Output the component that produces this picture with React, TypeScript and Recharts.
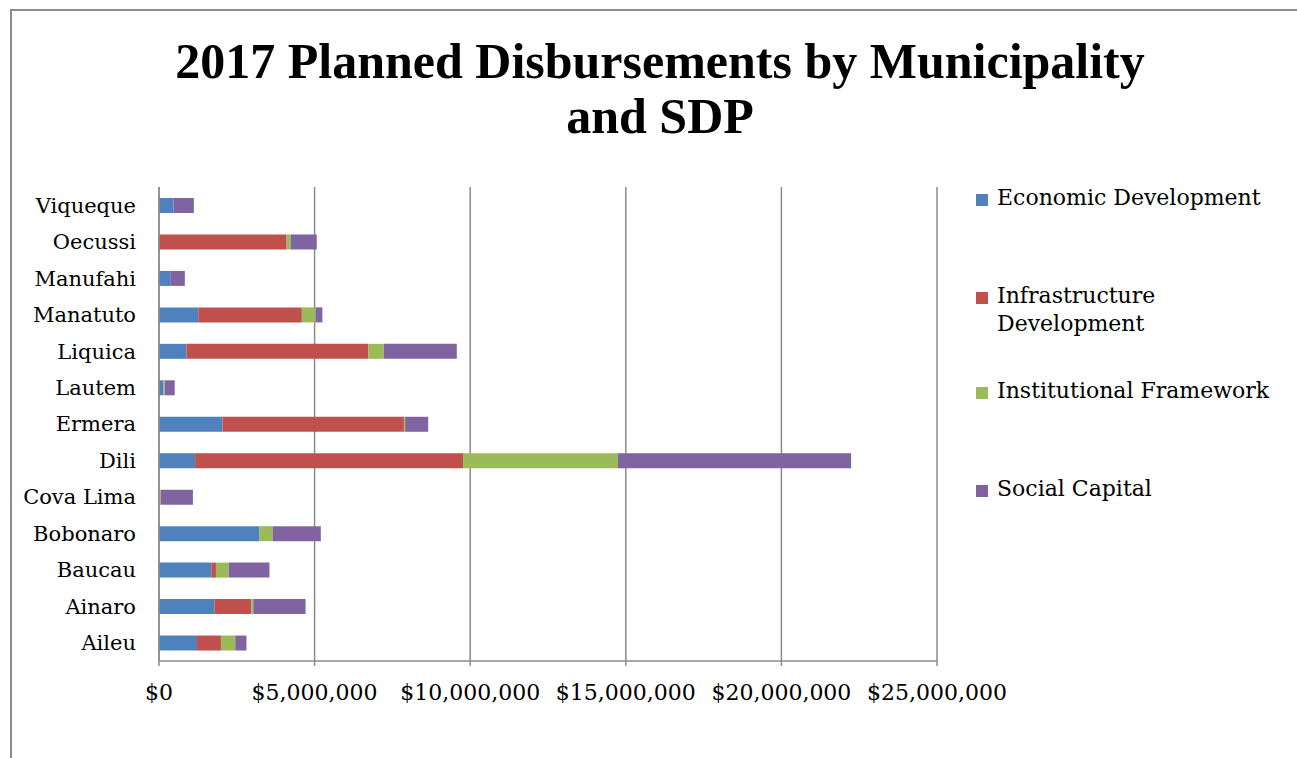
import React from 'react';
import {
  BarChart,
  Bar,
  XAxis,
  YAxis,
  CartesianGrid,
  Legend,
} from 'recharts';

// municipalities, listed bottom-to-top as in the source sheet
const municipalities = [
  'Aileu', 'Ainaro', 'Baucau', 'Bobonaro', 'Cova Lima', 'Dili', 'Ermera',
  'Lautem', 'Liquica', 'Manatuto', 'Manufahi', 'Oecussi', 'Viqueque',
];

// values in US$
const economicDevelopment = [
  1220000, 1780000, 1680000, 3230000, 0, 1160000, 2040000,
  145000, 880000, 1260000, 360000, 0, 470000,
];
const infrastructureDevelopment = [
  770000, 1190000, 150000, 0, 0, 8610000, 5830000,
  0, 5850000, 3330000, 0, 4100000, 0,
];
const institutionalFramework = [
  460000, 60000, 410000, 420000, 60000, 4980000, 40000,
  40000, 490000, 440000, 0, 130000, 0,
];
const socialCapital = [
  360000, 1680000, 1310000, 1550000, 1030000, 7490000, 740000,
  320000, 2350000, 220000, 470000, 840000, 650000,
];

const xTicks = [0, 5000000, 10000000, 15000000, 20000000, 25000000];

const SERIES = [
  { key: 'economic', name: 'Economic Development', color: '#4F81BD' },
  { key: 'infrastructure', name: 'Infrastructure Development', color: '#C0504D' },
  { key: 'institutional', name: 'Institutional Framework', color: '#9BBB59' },
  { key: 'social', name: 'Social Capital', color: '#8064A2' },
];

const data = municipalities.map((name, i) => ({
  name,
  economic: economicDevelopment[i],
  infrastructure: infrastructureDevelopment[i],
  institutional: institutionalFramework[i],
  social: socialCapital[i],
}));

const LABEL_FONT = '"DejaVu Serif", serif';
const LEGEND_WIDTH = 310;
const legendTops = [0, 98, 193, 291];

const renderLegend = () => (
  <div style={{ position: 'relative', width: LEGEND_WIDTH, height: 320, fontFamily: LABEL_FONT, fontSize: 22 }}>
    {SERIES.map((s, i) => (
      <div key={s.key} style={{ position: 'absolute', left: 0, top: legendTops[i], display: 'flex' }}>
        <div style={{ width: 12, height: 12, background: s.color, marginTop: 7, marginRight: 9 }} />
        <div style={{ width: 285, lineHeight: '28px', marginTop: -3 }}>{s.name}</div>
      </div>
    ))}
  </div>
);

export default function App() {
  return (
    <div style={{ position: 'absolute', left: 0, top: 0, width: 1297, height: 758, background: '#fff', overflow: 'hidden' }}>
      <div style={{ position: 'absolute', left: 10, top: 9, width: 1400, height: 800, borderLeft: '2px solid #8c8c8c', borderTop: '2px solid #8c8c8c' }} />
      <div
        style={{
          position: 'absolute', left: 160, top: 34, width: 1000, textAlign: 'center',
          fontFamily: '"Liberation Serif", serif', fontWeight: 'bold', fontSize: 50, lineHeight: '55px', color: '#000',
        }}
      >
        2017 Planned Disbursements by Municipality
        <br />
        and SDP
      </div>
      <BarChart
        width={1297}
        height={758}
        data={data}
        layout="vertical"
        barSize={15}
        margin={{ top: 187, right: 360 - LEGEND_WIDTH, bottom: 57, left: 0 }}
        style={{ position: 'absolute', left: 0, top: 0 }}
      >
        <CartesianGrid horizontal={false} stroke="#8c8c8c" strokeWidth={1.5} />
        <XAxis
          type="number"
          domain={[0, 25000000]}
          ticks={xTicks}
          interval={0}
          tickFormatter={(v: number) => `$${v.toLocaleString('en-US')}`}
          stroke="#8c8c8c"
          strokeWidth={1.5}
          tick={{ fill: '#000', fontFamily: LABEL_FONT, fontSize: 22 }}
          tickSize={5}
          tickMargin={18}
          height={40}
        />
        <YAxis
          type="category"
          dataKey="name"
          reversed
          width={159}
          stroke="#8c8c8c"
          strokeWidth={1.5}
          tickLine={false}
          tick={{ fill: '#000', fontFamily: LABEL_FONT, fontSize: 21 }}
          tickMargin={17}
          interval={0}
        />
        <Legend
          layout="vertical"
          align="right"
          verticalAlign="top"
          content={renderLegend}
          wrapperStyle={{ position: 'absolute', left: 976, top: 187, width: LEGEND_WIDTH }}
        />
        {SERIES.map((s) => (
          <Bar key={s.key} dataKey={s.key} name={s.name} stackId="a" fill={s.color} isAnimationActive={false} />
        ))}
      </BarChart>
    </div>
  );
}
